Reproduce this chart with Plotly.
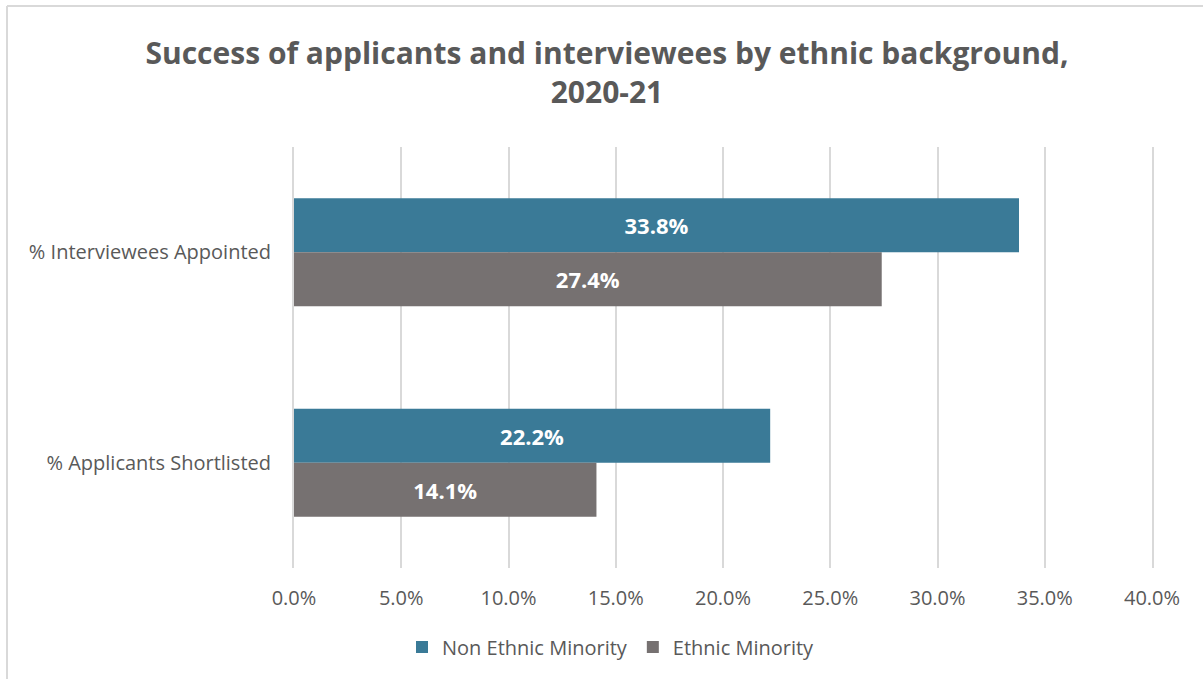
import plotly.graph_objects as go

categories = ["% Interviewees Appointed", "% Applicants Shortlisted"]
non_ethnic = [0.338, 0.222]
ethnic = [0.274, 0.141]
tick_vals = [0, 0.05, 0.10, 0.15, 0.20, 0.25, 0.30, 0.35, 0.40]
tick_text = ["0.0%", "5.0%", "10.0%", "15.0%", "20.0%", "25.0%", "30.0%", "35.0%", "40.0%"]

W, H = 1203, 679
L, R, T, B = 294, 51, 147, 111
pw, ph = W - L - R, H - T - B
FONT = "Open Sans"
GRID = "#d9d9d9"

def px(x):
    return (x - L) / pw

def py(y):
    return (H - B - y) / ph

fig = go.Figure()
fig.add_trace(go.Bar(
    y=categories, x=non_ethnic, orientation="h", name="Non Ethnic Minority",
    marker=dict(color="#3a7a97", line=dict(width=0)),
    text=[f"{v*100:.1f}%" for v in non_ethnic], textposition="inside",
    insidetextanchor="middle",
    textfont=dict(color="white", size=22, family=FONT, weight="bold"),
))
fig.add_trace(go.Bar(
    y=categories, x=ethnic, orientation="h", name="Ethnic Minority",
    marker=dict(color="#767171", line=dict(width=0)),
    text=[f"{v*100:.1f}%" for v in ethnic], textposition="inside",
    insidetextanchor="middle",
    textfont=dict(color="white", size=22, family=FONT, weight="bold"),
))

fig.update_layout(
    width=W, height=H,
    margin=dict(l=L, r=R, t=T, b=B),
    paper_bgcolor="white", plot_bgcolor="white",
    barmode="group", bargap=0.487, bargroupgap=0,
    font=dict(family=FONT, color="#595959"),
    title=dict(
        text="Success of applicants and interviewees by ethnic background,<br>2020-21",
        x=607 / W, xref="container", xanchor="center",
        y=1 - 64 / H, yref="container", yanchor="middle",
        font=dict(size=30, color="#595959", family=FONT, weight="bold"),
    ),
    xaxis=dict(
        range=[0, 0.4], tickvals=tick_vals, ticktext=tick_text,
        showgrid=True, gridcolor=GRID, gridwidth=2,
        zeroline=False, showline=False, ticks="",
        tickfont=dict(size=20, color="#595959"), ticklabelstandoff=16,
    ),
    yaxis=dict(
        categoryorder="array", categoryarray=categories, autorange="reversed",
        showgrid=False, zeroline=False,
        showline=True, mirror=True, linecolor=GRID, linewidth=2,
        ticks="",
        tickfont=dict(size=20, color="#595959"), ticklabelstandoff=17,
    ),
    legend=dict(
        orientation="h", xref="container", yref="container",
        x=611 / W, xanchor="center", y=1 - 647 / H, yanchor="middle",
        font=dict(size=20, color="#595959"),
        itemwidth=30, traceorder="normal",
    ),
    showlegend=True,
    shapes=[
        dict(type="line", xref="paper", yref="paper",
             x0=px(7), x1=px(W + 5), y0=py(6), y1=py(6),
             line=dict(color=GRID, width=2)),
        dict(type="line", xref="paper", yref="paper",
             x0=px(7), x1=px(7), y0=py(6), y1=py(H + 5),
             line=dict(color=GRID, width=2)),
    ],
)

fig.write_html("out.html")
